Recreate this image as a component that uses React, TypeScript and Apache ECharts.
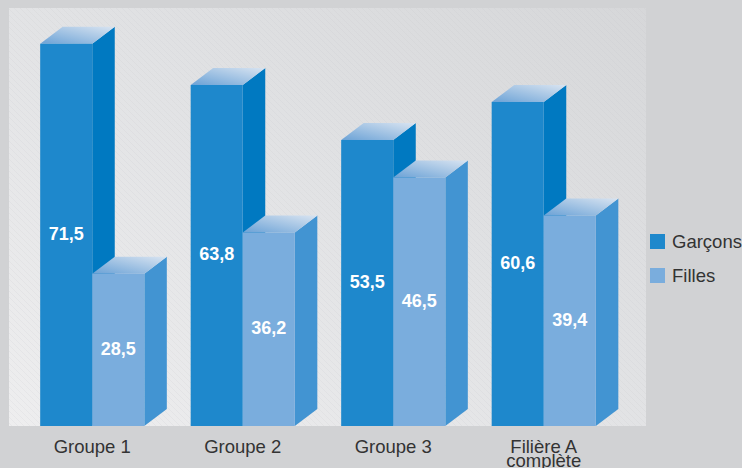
import React, { useEffect, useRef } from "react";
import * as echarts from "echarts";

const categories = ["Groupe 1", "Groupe 2", "Groupe 3", "Filière A\ncomplète"];
const garcons = [71.5, 63.8, 53.5, 60.6];
const filles = [28.5, 36.2, 46.5, 39.4];

const FONT = '"Liberation Sans", Arial, sans-serif';
const BAR_RATIO = 0.346;
const DX = 22.5;
const DY = -17;

function bar3d(side: "left" | "right", front: string, flank: string) {
  return (params: any, api: any) => {
    const cat = api.value(0);
    const val = api.value(1);
    const top = api.coord([cat, val]);
    const base = api.coord([cat, 0]);
    const w = api.size([1, 0])[0] * BAR_RATIO;
    const x0 = side === "left" ? top[0] - w : top[0];
    const x1 = x0 + w;
    const yT = top[1];
    const yB = base[1];
    return {
      type: "group",
      children: [
        {
          type: "polygon",
          shape: { points: [[x1, yB], [x1 + DX, yB + DY], [x1 + DX, yT + DY], [x1, yT]] },
          style: { fill: flank },
        },
        {
          type: "polygon",
          shape: { points: [[x0, yT], [x1, yT], [x1 + DX, yT + DY], [x0 + DX, yT + DY]] },
          style: {
            fill: new echarts.graphic.LinearGradient(0, 1, 1, 0, [
              { offset: 0, color: "#6ba2d6" },
              { offset: 1, color: "#d9e4f1" },
            ]),
          },
        },
        {
          type: "rect",
          shape: { x: x0, y: yT, width: w, height: yB - yT },
          style: { fill: front },
        },
        {
          type: "text",
          x: (x0 + x1) / 2,
          y: (yT + yB) / 2 - 1,
          style: {
            text: String(val).replace(".", ","),
            fill: "#ffffff",
            font: `bold 18px ${FONT}`,
            align: "center",
            verticalAlign: "middle",
          },
        },
      ],
    };
  };
}

function hatch() {
  const c = document.createElement("canvas");
  c.width = 6;
  c.height = 6;
  const g = c.getContext("2d")!;
  g.strokeStyle = "rgba(190,192,196,0.16)";
  g.lineWidth = 1;
  g.beginPath();
  g.moveTo(-1, -1);
  g.lineTo(7, 7);
  g.moveTo(-4, 2);
  g.lineTo(4, 10);
  g.moveTo(2, -4);
  g.lineTo(10, 4);
  g.stroke();
  return c;
}

export default function App() {
  const ref = useRef<HTMLDivElement>(null);
  useEffect(() => {
    document.body.style.margin = "0";
    const chart = echarts.init(ref.current!, undefined, { renderer: "svg" });
    chart.setOption({
      animation: false,
      backgroundColor: "#d1d2d4",
      grid: { left: 17, top: 8, width: 602, height: 418, outerBoundsMode: "none" },
      graphic: [
        {
          type: "rect",
          z: -2,
          shape: { x: 9, y: 8, width: 637, height: 418 },
          style: {
            fill: new echarts.graphic.LinearGradient(0, 1, 1, 0, [
              { offset: 0, color: "#eeeeef" },
              { offset: 0.55, color: "#e1e2e4" },
              { offset: 1, color: "#d6d7d9" },
            ]),
          },
        },
        {
          type: "rect",
          z: -1,
          shape: { x: 9, y: 8, width: 637, height: 418 },
          style: { fill: { image: hatch(), repeat: "repeat" } as any },
        },
      ],
      legend: {
        left: 650,
        top: 232,
        orient: "vertical",
        icon: "rect",
        itemWidth: 15,
        itemHeight: 15,
        itemGap: 15,
        padding: 0,
        textStyle: { fontFamily: FONT, fontSize: 18.5, color: "#333333", padding: [5, 0, 0, 2] },
        data: ["Garçons", "Filles"],
      },
      xAxis: {
        type: "category",
        data: categories,
        axisLine: { show: false },
        axisTick: { show: false },
        axisLabel: {
          fontFamily: FONT,
          fontSize: 18.5,
          color: "#333333",
          margin: 13,
          lineHeight: 14,
          interval: 0,
        },
      },
      yAxis: { type: "value", min: 0, max: 78.2, show: false },
      series: [
        {
          name: "Garçons",
          type: "custom",
          clip: false,
          z: 2,
          itemStyle: { color: "#1e88cc" },
          encode: { x: 0, y: 1 },
          data: garcons.map((v, i) => [i, v]),
          renderItem: bar3d("left", "#1e88cc", "#0079c1"),
        },
        {
          name: "Filles",
          type: "custom",
          clip: false,
          z: 3,
          itemStyle: { color: "#7aaddd" },
          encode: { x: 0, y: 1 },
          data: filles.map((v, i) => [i, v]),
          renderItem: bar3d("right", "#7aaddd", "#4294d2"),
        },
      ],
    });
    return () => chart.dispose();
  }, []);
  return <div ref={ref} style={{ width: 742, height: 468 }} />;
}
